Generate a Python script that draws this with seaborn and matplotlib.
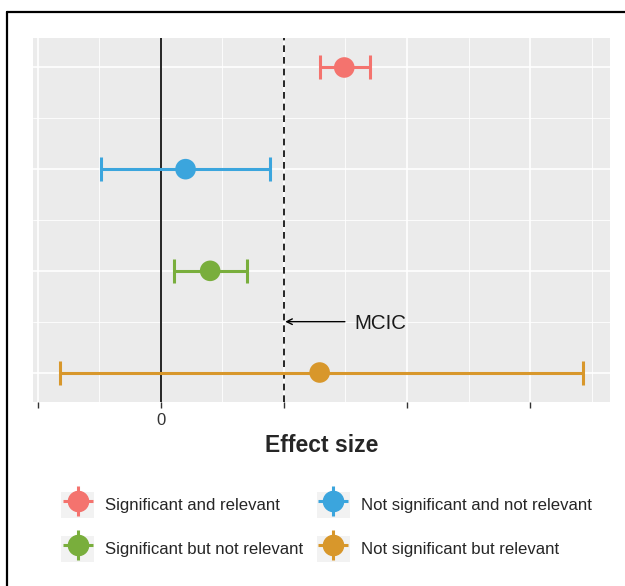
import matplotlib
matplotlib.use("Agg")
import matplotlib.pyplot as plt
import seaborn as sns
import pandas as pd
from matplotlib.lines import Line2D
from matplotlib.patches import Patch
from matplotlib.legend_handler import HandlerTuple
from matplotlib.ticker import MultipleLocator

categories = ["Significant and relevant", "Not significant and not relevant",
              "Significant but not relevant", "Not significant but relevant"]
estimate = [1.49, 0.20, 0.40, 1.29]
lower = [1.29, -0.49, 0.11, -0.82]
upper = [1.70, 0.89, 0.70, 3.43]
colors = ["#F4736E", "#3BA5DD", "#79AE3C", "#D8972B"]
mcic = 1.0
tick_pos = [-1, 0, 1, 2, 3]
tick_labels = ["", "0", "", "", ""]

df = pd.DataFrame({"category": categories, "estimate": estimate,
                   "lower": lower, "upper": upper, "row": range(len(categories))})

sns.set_style("darkgrid")
plt.rcParams["font.family"] = ["Liberation Sans", "DejaVu Sans"]

fig = plt.figure(figsize=(6.25, 5.86), dpi=100)
ax = fig.add_axes([33/625, 1-402/586, (610-33)/625, (402-38)/586])
ax.set_facecolor("#EBEBEB")

# confidence intervals
for i, r in df.iterrows():
    ax.errorbar(r["estimate"], r["row"],
                xerr=[[r["estimate"]-r["lower"]], [r["upper"]-r["estimate"]]],
                fmt="none", ecolor=colors[i], elinewidth=2.2, capsize=8.5, capthick=2.2, zorder=3)

sns.scatterplot(data=df, x="estimate", y="row", hue="category", palette=colors,
                s=220, edgecolor="none", legend=False, ax=ax, zorder=4)

ax.axvline(0, color="black", lw=1.2, zorder=2)
ax.axvline(mcic, color="black", lw=1.2, ls=(0, (4, 3)), zorder=2)
ax.annotate("", xy=(mcic + 0.01, 2.5), xytext=(1.495, 2.5),
            arrowprops=dict(arrowstyle="->", color="black", lw=1.0, shrinkA=0, shrinkB=0))
ax.text(1.575, 2.5, "MCIC", fontsize=14.8, va="center_baseline", ha="left", color="#1a1a1a")

ax.set_xlim(-1.04, 3.65)
ax.set_ylim(3.29, -0.29)
ax.set_xticks(tick_pos)
ax.set_xticklabels(tick_labels, fontsize=12, color="#333333")
ax.xaxis.set_minor_locator(MultipleLocator(0.5))
ax.set_yticks(range(len(categories)))
ax.set_yticks([0.5, 1.5, 2.5], minor=True)
ax.set_yticklabels([])
ax.tick_params(axis="y", length=0)
ax.tick_params(axis="x", which="major", length=4, width=1, color="#333333", pad=4, bottom=True)
ax.tick_params(axis="x", which="minor", length=0)
ax.grid(which="major", color="white", lw=1.2)
ax.grid(which="minor", color="white", lw=0.6)
for s in ax.spines.values():
    s.set_visible(False)
ax.set_xlabel("Effect size", fontsize=16.5, fontweight="bold", labelpad=4)
ax.set_ylabel("")

order = [0, 2, 1, 3]
handles = []
labels = []
for i in order:
    handles.append((Patch(facecolor="#F2F2F2", edgecolor="none"),
                    Line2D([], [], marker="+", ms=21, mew=2.2, color=colors[i], ls=""),
                    Line2D([], [], marker="o", ms=14.5, color=colors[i], ls="")))
    labels.append(categories[i])
fig.legend(handles, labels, ncol=2, loc="upper left", bbox_to_anchor=(53/625, 1-484/586),
           frameon=False, fontsize=12.1, handlelength=1.95, handleheight=1.95,
           handletextpad=0.67, columnspacing=0.8, labelspacing=1.1, borderpad=0,
           handler_map={tuple: HandlerTuple(ndivide=1, pad=0)})

# outer frame (top and left edges visible)
fig.add_artist(Line2D([7/625, 1.0], [1-12/586, 1-12/586], color="black", lw=1.6))
fig.add_artist(Line2D([7/625, 7/625], [0, 1-12/586], color="black", lw=1.6))

fig.savefig("out.png", dpi=100)
